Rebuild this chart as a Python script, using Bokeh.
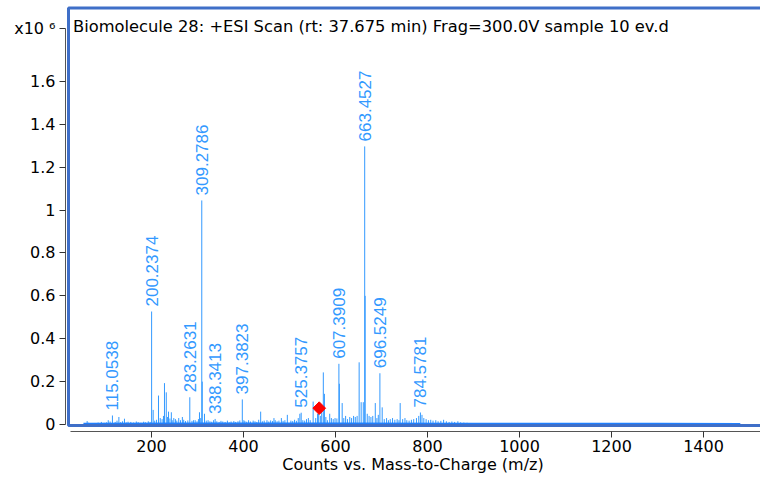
import math
from bokeh.plotting import figure
from bokeh.models import (ColumnDataSource, Label, PolyAnnotation, FixedTicker,
                          CustomJSTickFormatter, Range1d)
from bokeh.core.properties import value
from bokeh.embed import file_html
from bokeh.resources import INLINE

# ---------------- data (intensity in units of 1e6 counts) ----------------
labeled_mz = [115.0538, 200.2374, 283.2631, 309.2786, 338.3413, 397.3823,
              525.3757, 607.3909, 663.4527, 696.5249, 784.5781]
labeled_int = [0.042, 0.527, 0.127, 1.045, 0.026, 0.117,
               0.055, 0.283, 1.297, 0.239, 0.056]
labeled_txt = ["115.0538", "200.2374", "283.2631", "309.2786", "338.3413", "397.3823",
               "525.3757", "607.3909", "663.4527", "696.5249", "784.5781"]

other_mz = [60.1, 106.0, 129.1, 141.2, 203.6, 215.2, 228.2, 232.1, 237.0, 243.1,
            248.5, 259.2, 267.1, 291.5, 304.3, 310.3, 315.2, 400.8, 437.3, 466.2,
            482.3, 495.3, 522.5, 551.4, 563.4, 573.5, 575.9, 582.4, 587.4, 608.4,
            614.5, 639.3, 651.4, 655.8, 660.4, 664.456, 686.5, 701.5, 740.6]
other_int = [0.016, 0.020, 0.035, 0.027, 0.068, 0.135, 0.193, 0.150, 0.060, 0.057,
             0.030, 0.030, 0.035, 0.020, 0.057, 0.200, 0.050, 0.020, 0.060, 0.030,
             0.030, 0.045, 0.050, 0.107, 0.050, 0.243, 0.143, 0.020, 0.050, 0.190,
             0.100, 0.040, 0.290, 0.104, 0.104, 0.600, 0.100, 0.080, 0.100]

noise_mz = [55, 63, 71, 77, 84, 91, 97, 102, 110, 121, 125, 133, 137, 145, 149, 155,
            161, 167, 171, 177, 183, 187, 193, 197, 207, 211, 219, 223, 226, 235, 240,
            245, 252, 255, 263, 270, 274, 279, 288, 295, 299, 302, 307, 319, 323, 327,
            331, 335, 342, 347, 351, 355, 360, 365, 369, 373, 379, 383, 388, 392, 403,
            407, 411, 415, 421, 425, 429, 433, 441, 445, 451, 455, 459, 463, 469, 473,
            477, 486, 490, 503, 507, 511, 515, 519, 529, 533, 537, 541, 545, 557, 561,
            567, 570, 579, 591, 595, 599, 603, 618, 622, 626, 631, 635, 643, 647, 669,
            673, 677, 681, 690, 693, 706, 711, 715, 719, 724, 729, 734, 738, 746, 751,
            755, 760, 765, 770, 776, 781, 788, 792, 797, 802, 807, 812, 818, 823, 829,
            835, 841, 847, 853, 859, 866, 872, 879, 886, 893, 901, 912, 925, 940, 960, 985]
noise_int = [0.006, 0.008, 0.005, 0.007, 0.009, 0.012, 0.008, 0.010, 0.014, 0.012, 0.018,
             0.011, 0.015, 0.010, 0.013, 0.012, 0.009, 0.014, 0.011, 0.008, 0.013, 0.010,
             0.015, 0.012, 0.018, 0.022, 0.030, 0.025, 0.040, 0.035, 0.028, 0.020, 0.025,
             0.018, 0.020, 0.022, 0.016, 0.019, 0.017, 0.020, 0.015, 0.025, 0.030, 0.018,
             0.020, 0.015, 0.013, 0.020, 0.015, 0.012, 0.017, 0.014, 0.012, 0.018, 0.010,
             0.014, 0.016, 0.012, 0.015, 0.019, 0.016, 0.013, 0.020, 0.014, 0.018, 0.015,
             0.012, 0.022, 0.015, 0.018, 0.020, 0.014, 0.019, 0.016, 0.020, 0.015, 0.018,
             0.017, 0.020, 0.018, 0.016, 0.022, 0.017, 0.030, 0.020, 0.018, 0.025, 0.030,
             0.020, 0.030, 0.050, 0.040, 0.060, 0.035, 0.030, 0.025, 0.030, 0.028, 0.030,
             0.040, 0.025, 0.035, 0.030, 0.035, 0.040, 0.050, 0.040, 0.035, 0.040, 0.030,
             0.045, 0.025, 0.030, 0.020, 0.025, 0.030, 0.022, 0.025, 0.020, 0.025, 0.030,
             0.020, 0.018, 0.022, 0.025, 0.030, 0.040, 0.045, 0.030, 0.025, 0.020, 0.022,
             0.018, 0.020, 0.015, 0.017, 0.022, 0.015, 0.012, 0.014, 0.012, 0.015, 0.010,
             0.009, 0.008, 0.007, 0.006, 0.006, 0.005, 0.005, 0.004, 0.004]

baseline_mz = [52, 300, 600, 900, 1100, 1300, 1480]
baseline_int = [0.004, 0.005, 0.005, 0.004, 0.003, 0.003, 0.002]

precursor_mz = [564.6]
precursor_int = [0.076]

x_ticks = [200, 400, 600, 800, 1000, 1200, 1400]
# the last y "tick" carries the exponent marker shown at the top of the axis
y_ticks = [0, 0.2, 0.4, 0.6, 0.8, 1.0, 1.2, 1.4, 1.6, 1.849]
y_tick_labels = ["0", "0.2", "0.4", "0.6", "0.8", "1", "1.2", "1.4", "1.6", "x10 \u2076"]

title_text = "Biomolecule 28: +ESI Scan (rt: 37.675 min) Frag=300.0V sample 10 ev.d"
x_label = "Counts vs. Mass-to-Charge (m/z)"

# ---------------- figure ----------------
FONT = "DejaVu Sans"
PEAK = "#3399ff"

p = figure(width=760, height=484,
           x_range=Range1d(13.04, 1523.9), y_range=Range1d(-0.03265, 1.9776),
           output_backend="svg", toolbar_location=None,
           min_border_left=65, min_border_right=0, min_border_top=0, min_border_bottom=53)
p.outline_line_color = None
p.xgrid.visible = False
p.ygrid.visible = False
p.background_fill_color = "white"
p.border_fill_color = "white"

all_mz = noise_mz + other_mz + labeled_mz
all_int = noise_int + other_int + labeled_int
src = ColumnDataSource(dict(x=all_mz, y0=[0] * len(all_mz), y1=all_int))
p.segment(x0="x", y0="y0", x1="x", y1="y1", source=src, line_color=PEAK, line_width=1)

p.line(baseline_mz, baseline_int, line_color="#1f80ff", line_width=2)

lab = ColumnDataSource(dict(x=labeled_mz, y=labeled_int, t=labeled_txt))
p.text(x="x", y="y", text="t", source=lab, angle=math.pi / 2,
       text_align="left", text_baseline="middle", y_offset=-5,
       text_color=PEAK, text_font=value("Liberation Sans"), text_font_size="17px")

p.scatter(precursor_mz, precursor_int, marker="square", angle=math.pi / 4,
          size=9, fill_color="red", line_color="red")

# blue pane border (open on the right, where it runs off the page)
p.add_layout(PolyAnnotation(xs=[900, 3, 3, 900], ys=[423.5, 423.5, 6, 6],
                            xs_units="screen", ys_units="screen",
                            fill_alpha=0, line_alpha=1,
                            line_color="#3f6fc8", line_width=3))

# axes
ax = p.xaxis[0]
ax.ticker = FixedTicker(ticks=x_ticks)
ax.bounds = (24, 1524)
ax.axis_label = x_label
ax.axis_label_text_font = FONT
ax.axis_label_text_font_style = "normal"
ax.axis_label_text_font_size = "16px"
ax.axis_label_text_color = "black"
ax.axis_label_standoff = 0
ax.major_label_text_font = FONT
ax.major_label_text_font_size = "16px"
ax.major_label_text_color = "black"
ax.major_label_standoff = 2
ax.major_tick_out = 6
ax.major_tick_in = 0
ax.minor_tick_line_color = None
ax.axis_line_color = "#555555"
ax.major_tick_line_color = "#333333"

ay = p.yaxis[0]
ay.ticker = FixedTicker(ticks=y_ticks)
ay.formatter = CustomJSTickFormatter(
    args=dict(tvals=y_ticks, tlabels=y_tick_labels),
    code="const i = tvals.findIndex(t => Math.abs(t - tick) < 1e-6); return i >= 0 ? tlabels[i] : '';")
ay.bounds = (0, 1.849)
ay.major_label_text_font = FONT
ay.major_label_text_font_size = "16px"
ay.major_label_text_color = "black"
ay.major_label_standoff = 4
ay.major_tick_out = 6
ay.major_tick_in = 0
ay.minor_tick_line_color = None
ay.axis_line_color = "#555555"
ay.major_tick_line_color = "#333333"

# title inside the pane
p.add_layout(Label(x=7.5, y=405, x_units="screen", y_units="screen", text=title_text,
                   text_font=FONT, text_font_size="16.3px", text_color="black",
                   text_baseline="middle", text_align="left"))

open("out.html", "w").write(file_html(p, INLINE))
